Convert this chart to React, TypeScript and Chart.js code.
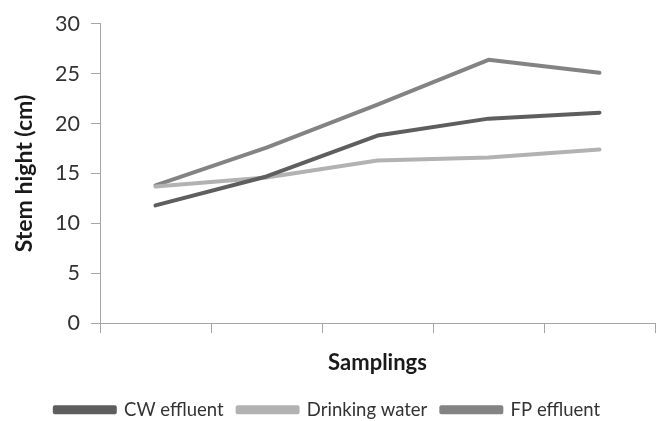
import React, { useEffect, useRef } from "react";
import { Chart, registerables } from "chart.js";

Chart.register(...registerables);

const samplings = ["S1", "S2", "S3", "S4", "S5"];
const cwEffluent = [11.8, 14.7, 18.8, 20.5, 21.1];
const drinkingWater = [13.7, 14.6, 16.3, 16.6, 17.4];
const fpEffluent = [13.8, 17.6, 21.9, 26.4, 25.1];
const yTicks = { min: 0, max: 30, step: 5 };

const FONT = "Lato, 'Open Sans', sans-serif";

export default function App() {
  const ref = useRef<HTMLCanvasElement | null>(null);
  useEffect(() => {
    if (!ref.current) return;
    const mk = (label: string, data: number[], color: string) => ({
      label,
      data,
      borderColor: color,
      backgroundColor: color,
      borderWidth: 4,
      pointRadius: 0,
      tension: 0,
      borderCapStyle: "round" as const,
      borderJoinStyle: "round" as const,
    });
    const chart = new Chart(ref.current, {
      type: "line",
      data: {
        labels: samplings,
        datasets: [
          mk("CW effluent", cwEffluent, "#5e5e5e"),
          mk("Drinking water", drinkingWater, "#b2b2b2"),
          mk("FP effluent", fpEffluent, "#838383"),
        ],
      },
      options: {
        animation: false,
        responsive: true,
        maintainAspectRatio: false,
        layout: { padding: { top: 20, left: 0, right: 7, bottom: -8 } },
        plugins: {
          tooltip: { enabled: false },
          legend: {
            position: "bottom",
            align: "center",
            labels: {
              boxWidth: 60,
              boxHeight: 5,
              padding: 14,
              color: "#333333",
              font: { family: FONT, size: 18.5 },
            },
          },
        },
        scales: {
          x: {
            offset: true,
            grid: {
              offset: true,
              drawOnChartArea: false,
              drawTicks: true,
              tickLength: 10,
              color: "#a6a6a6",
            },
            border: { display: true, color: "#a6a6a6" },
            ticks: { display: false },
            title: {
              display: true,
              text: "Samplings",
              color: "#1a1a1a",
              font: { family: FONT, size: 22, weight: "bold" },
              padding: { top: 17, bottom: 10 },
            },
          },
          y: {
            min: yTicks.min,
            max: yTicks.max,
            afterFit: (s: any) => {
              s.width = 100;
            },
            grid: {
              drawOnChartArea: false,
              drawTicks: true,
              tickLength: 9,
              color: "#a6a6a6",
            },
            border: { display: true, color: "#a6a6a6" },
            ticks: {
              stepSize: yTicks.step,
              padding: 11,
              color: "#333333",
              font: { family: FONT, size: 21.5 },
            },
            title: {
              display: true,
              text: "Stem hight (cm)",
              color: "#1a1a1a",
              font: { family: FONT, size: 23, weight: "bold" },
              padding: { top: 11, bottom: 0 },
            },
          },
        },
      },
    });
    return () => chart.destroy();
  }, []);
  return (
    <div style={{ position: "fixed", left: 0, top: 0, width: 662, height: 421, background: "#fff" }}>
      <canvas ref={ref} />
    </div>
  );
}
